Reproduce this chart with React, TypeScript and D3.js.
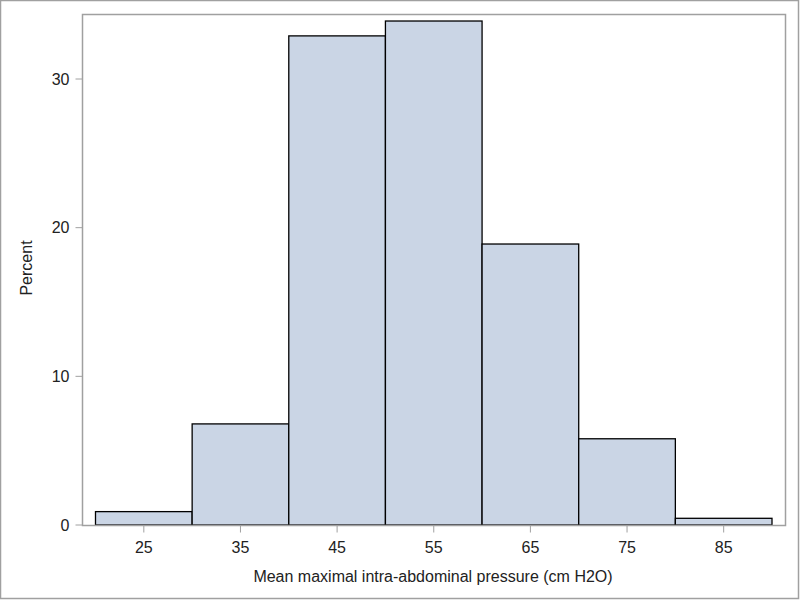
import React from "react";
import * as d3 from "d3";

const binStarts = [20, 30, 40, 50, 60, 70, 80];
const binWidth = 10;
const percents = [0.9, 6.8, 32.9, 33.9, 18.9, 5.8, 0.45];
const xTickValues = [25, 35, 45, 55, 65, 75, 85];
const yTickValues = [0, 10, 20, 30];
const xLabel = "Mean maximal intra-abdominal pressure (cm H2O)";
const yLabel = "Percent";

export default function App() {
  const W = 800, H = 600;
  const left = 82.5, right = 785.5, top = 14.5, bottom = 525.5;
  const x = d3.scaleLinear().domain([20, 90]).range([95.5, 772]);
  const y = d3.scaleLinear().domain([0, 30]).range([525, 79]);
  const font = "'Liberation Sans', Arial, sans-serif";
  return (
    <svg width={W} height={H} style={{ position: "absolute", left: 0, top: 0, background: "#fff" }}>
      <rect x={0.5} y={0.5} width={W - 2} height={H - 2} fill="#fff" stroke="#a0a0a0" strokeWidth={1.5} />
      {binStarts.map((s, i) => (
        <rect key={i} x={x(s)} y={y(percents[i])} width={x(s + binWidth) - x(s)} height={y(0) - y(percents[i])}
          fill="#cad5e5" stroke="#000" strokeWidth={1.3} />
      ))}
      <rect x={left} y={top} width={right - left} height={bottom - top} fill="none" stroke="#a0a0a0" strokeWidth={1.5} />
      {yTickValues.map(v => (
        <g key={v}>
          <line x1={left - 7} x2={left} y1={y(v)} y2={y(v)} stroke="#a0a0a0" strokeWidth={1} />
          <text x={left - 13} y={y(v)} dy="0.36em" textAnchor="end" fontFamily={font} fontSize={16} fill="#222">{v}</text>
        </g>
      ))}
      {xTickValues.map(v => (
        <g key={v}>
          <line x1={x(v)} x2={x(v)} y1={bottom} y2={bottom + 7} stroke="#a0a0a0" strokeWidth={1} />
          <text x={x(v)} y={553} textAnchor="middle" fontFamily={font} fontSize={16} fill="#222">{v}</text>
        </g>
      ))}
      <text x={433} y={582} textAnchor="middle" fontFamily={font} fontSize={16} fill="#222">{xLabel}</text>
      <text transform={`translate(32,268) rotate(-90)`} textAnchor="middle" fontFamily={font} fontSize={16} fill="#222">{yLabel}</text>
    </svg>
  );
}
